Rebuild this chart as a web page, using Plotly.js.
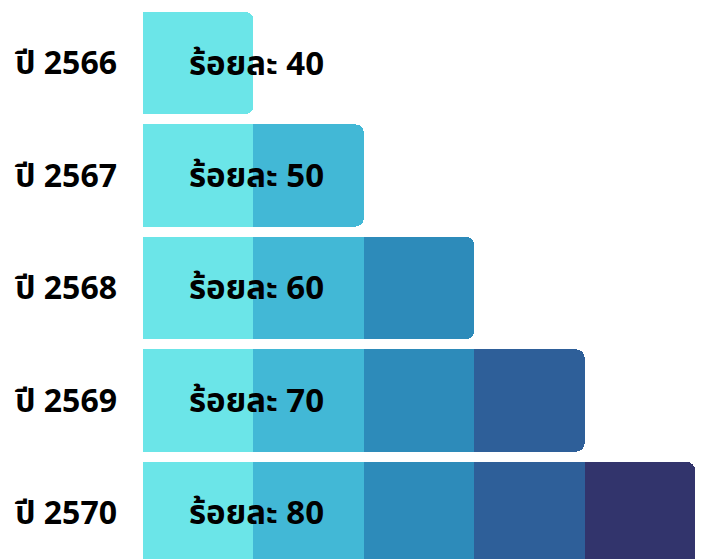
<!DOCTYPE html>
<html>
<head>
<meta charset="utf-8">
<script src="https://cdn.plot.ly/plotly-3.0.1.min.js"></script>
<style>html,body{margin:0;padding:0;background:#fff;}#chart{width:704px;height:559px;}</style>
</head>
<body>
<div id="chart"></div>
<script>
const years = ["ปี 2566", "ปี 2567", "ปี 2568", "ปี 2569", "ปี 2570"];
const percents = [40, 50, 60, 70, 80];
const seg1 = [40, 40, 40, 40, 40];
const seg2 = [null, 10, 10, 10, 10];
const seg3 = [null, null, 10, 10, 10];
const seg4 = [null, null, null, 10, 10];
const seg5 = [null, null, null, null, 10];
const segColors = ["#6be5e8", "#42b8d6", "#2d8bba", "#2e5f99", "#32346c"];

const segs = [seg1, seg2, seg3, seg4, seg5];
const traces = segs.map((s, i) => ({
  type: "bar",
  orientation: "h",
  y: years,
  x: s,
  marker: {color: segColors[i], line: {width: 0}},
  hoverinfo: "skip",
  showlegend: false
}));

const fam = "Noto Sans, Noto Sans Thai, sans-serif";
const annotations = years.map((y, i) => ({
  x: 40.3, y: y, xref: "x", yref: "y",
  text: "ร้อยละ " + percents[i],
  showarrow: false,
  xanchor: "center", yanchor: "middle",
  yshift: 1,
  font: {family: fam, size: 33, color: "#000", weight: 700}
}));

const layout = {
  width: 704, height: 559,
  margin: {l: 143, r: 9, t: 0, b: 0},
  paper_bgcolor: "#fff", plot_bgcolor: "#fff",
  barmode: "stack",
  bargap: 0.093,
  barcornerradius: 8,
  annotations: annotations,
  xaxis: {range: [30, 80], showgrid: false, zeroline: false, showticklabels: false, fixedrange: true},
  yaxis: {
    type: "category",
    range: [4.409, -0.56],
    showgrid: false, zeroline: false,
    ticks: "", ticklabelstandoff: 25,
    tickfont: {family: fam, size: 32, color: "#000", weight: 700}
  }
};

Plotly.newPlot("chart", traces, layout, {displayModeBar: false, staticPlot: true});
</script>
</body>
</html>
